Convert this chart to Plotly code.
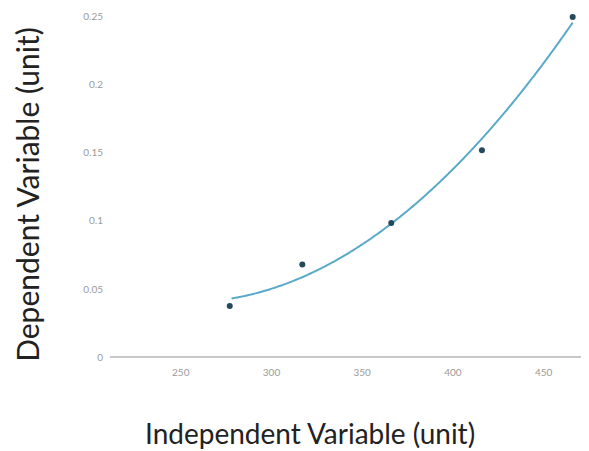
import numpy as np
import plotly.graph_objects as go

x_values = [277, 317, 366, 416, 466]
y_values = [0.0375, 0.068, 0.0985, 0.152, 0.25]

x_ticks = [250, 300, 350, 400, 450]
y_ticks = [0, 0.05, 0.1, 0.15, 0.2, 0.25]

# quadratic trendline fitted to the points
coef = np.polyfit(x_values, y_values, 2)
trend_x = np.linspace(min(x_values) + 1, max(x_values), 200)
trend_y = np.polyval(coef, trend_x)

fig = go.Figure()
fig.add_trace(
    go.Scatter(
        x=trend_x,
        y=trend_y,
        mode="lines",
        line=dict(color="#5aa9c9", width=2, shape="spline"),
        hoverinfo="skip",
    )
)
fig.add_trace(
    go.Scatter(
        x=x_values,
        y=y_values,
        mode="markers",
        marker=dict(color="#23495a", size=6),
        cliponaxis=False,
    )
)

# page body adds an 8px offset, so the figure is sized to fit the window
fig.update_layout(
    width=581,
    height=443,
    showlegend=False,
    plot_bgcolor="white",
    paper_bgcolor="white",
    margin=dict(l=102, r=0, t=0, b=94),
    font=dict(family="Lato", color="#222222"),
)
# axis titles are not centred on the plot area in the reference, so place them by hand
fig.add_annotation(
    text="Independent Variable (unit)",
    xref="paper", yref="paper",
    x=0.4175, y=-0.218,
    xanchor="center", yanchor="middle",
    showarrow=False,
    font=dict(size=28),
)
fig.add_annotation(
    text="Dependent Variable (unit)",
    xref="paper", yref="paper",
    x=-0.173, y=0.465,
    xanchor="center", yanchor="middle",
    textangle=-90,
    showarrow=False,
    font=dict(size=30),
)
fig.update_xaxes(
    range=[211, 475],
    tickvals=x_ticks,
    showgrid=False,
    zeroline=False,
    showline=False,
    tickfont=dict(size=10, color="#9a9a9a"),
    ticklabelstandoff=8,
)
fig.update_yaxes(
    range=[0, 0.2566],
    tickvals=y_ticks,
    showgrid=False,
    zeroline=True,
    zerolinecolor="#c8c8c8",
    zerolinewidth=2,
    showline=False,
    tickfont=dict(size=10, color="#9a9a9a"),
    ticklabelstandoff=6,
)

fig.write_html("out.html")
